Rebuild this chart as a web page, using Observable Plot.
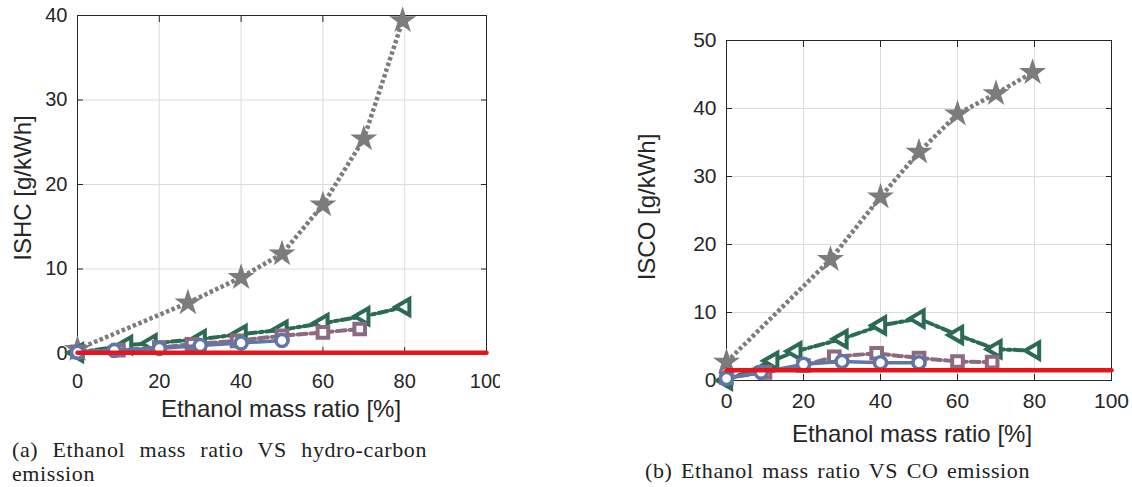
<!DOCTYPE html>
<html><head><meta charset="utf-8">
<script src="https://cdn.jsdelivr.net/npm/d3@7"></script>
<script src="https://cdn.jsdelivr.net/npm/@observablehq/plot@0.6"></script>
<style>
body{margin:0;background:#fff;width:1132px;height:487px;position:relative;overflow:hidden;font-family:"Liberation Sans",Arial,sans-serif;}
.abs{position:absolute}
.ylab{position:absolute;font-size:24px;line-height:1;white-space:nowrap;transform:translate(-50%,-50%) rotate(-90deg);color:#262626}
.xlab{position:absolute;font-size:24px;line-height:1;white-space:nowrap;transform:translate(-50%,-50%);color:#262626}
.cap{position:absolute;font-family:"Liberation Serif","Times New Roman",serif;font-size:22px;line-height:22px;letter-spacing:0.6px;white-space:nowrap;color:#222}
.just{text-align:justify;text-align-last:justify;white-space:normal}
</style></head><body>
<div id="left" class="abs" style="left:0;top:0"></div>
<div id="right" class="abs" style="left:600px;top:0"></div>
<div class="ylab" style="left:22.5px;top:188px">ISHC [g/kWh]</div>
<div class="xlab" style="left:281px;top:409px">Ethanol mass ratio [%]</div>
<div class="ylab" style="left:647px;top:207px">ISCO [g/kWh]</div>
<div class="xlab" style="left:912px;top:434px">Ethanol mass ratio [%]</div>
<div class="cap just" style="left:12px;top:439px;width:415px">(a) Ethanol mass ratio VS hydro-carbon</div>
<div class="cap" style="left:12px;top:463px">emission</div>
<div class="cap just" style="left:645px;top:460px;width:385px">(b) Ethanol mass ratio VS CO emission</div>
<script>
// ---- data ----
const xTicks = [0, 20, 40, 60, 80, 100];
const ishcTicks = [0, 10, 20, 30, 40];
const iscoTicks = [0, 10, 20, 30, 40, 50];

const ratioStar = [0, 27, 40, 50, 60, 70, 79.5];
const ratioTri  = [0, 12, 18, 30, 40, 50, 60, 70, 80];
const ratioSq   = [0, 10, 20, 28, 39, 50, 60, 69];
const ratioCirc = [0, 9, 20, 30, 40, 50];
const ratioLimit = [0, 100];

const ishcStar = [0.5, 6.0, 9.0, 11.8, 17.6, 25.4, 39.4];
const ishcTri  = [0.1, 1.0, 1.2, 1.7, 2.3, 2.8, 3.6, 4.4, 5.5];
const ishcSq   = [0.2, 0.4, 0.7, 1.1, 1.5, 2.1, 2.5, 2.9];
const ishcCirc = [0.15, 0.35, 0.6, 0.95, 1.25, 1.55];
const ishcLimit = [0.1, 0.1];

const iscoStar = [2.7, 17.8, 27.0, 33.6, 39.2, 42.2, 45.3];
const iscoTri  = [0, 2.9, 4.3, 6.1, 8.1, 9.1, 6.7, 4.6, 4.4];
const iscoSq   = [0.4, 1.2, 2.2, 3.5, 4.0, 3.3, 2.8, 2.7];
const iscoCirc = [0.3, 1.2, 2.4, 2.8, 2.6, 2.6];
const iscoLimit = [1.5, 1.5];

const colStar = "#7c7c7c", colTri = "#2b6b53", colSq = "#8c6a82", colCirc = "#5f77a7", colLimit = "#e8141b";

const zip = (xs, ys) => xs.map((x, i) => ({x, y: ys[i]}));

function chart({width, height, ml, mr, mt, mb, yDomain, yTicks, star, tri, sq, circ, limit, xPad, fs}) {
  const S = zip(ratioStar, star), T = zip(ratioTri, tri), Q = zip(ratioSq, sq), C = zip(ratioCirc, circ), L = zip(ratioLimit, limit);
  return Plot.plot({
    width, height, marginLeft: ml, marginRight: mr, marginTop: mt, marginBottom: mb,
    style: {fontFamily: "'Liberation Sans', Arial, sans-serif", color: "#262626", background: "transparent", overflow: "hidden"},
    x: {domain: [0, 100]},
    y: {domain: yDomain},
    marks: [
      Plot.gridX(xTicks, {stroke: "#dcdcdc", strokeOpacity: 1}),
      Plot.gridY(yTicks, {stroke: "#dcdcdc", strokeOpacity: 1}),
      Plot.axisX({ticks: xTicks, tickSize: 0, tickPadding: xPad, fontSize: fs, label: null}),
      Plot.axisY({ticks: yTicks, tickSize: 0, tickPadding: 10, fontSize: fs, label: null}),
      Plot.axisX({ticks: xTicks, anchor: "bottom", tickSize: -6, tickFormat: () => "", label: null}),
      Plot.axisX({ticks: xTicks, anchor: "top", tickSize: -6, tickFormat: () => "", label: null}),
      Plot.axisY({ticks: yTicks, anchor: "left", tickSize: -6, tickFormat: () => "", label: null}),
      Plot.axisY({ticks: yTicks, anchor: "right", tickSize: -6, tickFormat: () => "", label: null}),
      Plot.frame({stroke: "#262626"}),
      Plot.line(S, {x: "x", y: "y", stroke: colStar, strokeWidth: 4.5, strokeDasharray: "3.5,2.5", strokeLinecap: "butt"}),
      Plot.dot(S, {x: "x", y: "y", symbol: "star", r: 8.5, fill: colStar}),
      Plot.line(T, {x: "x", y: "y", stroke: colTri, strokeWidth: 4, strokeDasharray: "9,3.5,3,3.5"}),
      Plot.dot(T, {x: "x", y: "y", symbol: "triangle", rotate: -90, r: 6, stroke: colTri, strokeWidth: 4, fill: "white"}),
      Plot.line(Q, {x: "x", y: "y", stroke: colSq, strokeWidth: 4, strokeDasharray: "9,4"}),
      Plot.dot(Q, {x: "x", y: "y", symbol: "square", r: 6, stroke: colSq, strokeWidth: 4, fill: "white"}),
      Plot.line(C, {x: "x", y: "y", stroke: colCirc, strokeWidth: 3.5}),
      Plot.dot(C, {x: "x", y: "y", r: 6, stroke: colCirc, strokeWidth: 3.5, fill: "white"}),
      Plot.line(L, {x: "x", y: "y", stroke: colLimit, strokeWidth: 4.5})
    ]
  });
}

document.getElementById("left").append(chart({
  width: 500, height: 430, ml: 77, mr: 14, mt: 15, mb: 77,
  yDomain: [0, 40], yTicks: ishcTicks, star: ishcStar, tri: ishcTri, sq: ishcSq, circ: ishcCirc, limit: ishcLimit, xPad: 20, fs: 20
}));
document.getElementById("right").append(chart({
  width: 532, height: 430, ml: 126, mr: 21, mt: 40, mb: 50,
  yDomain: [0, 50], yTicks: iscoTicks, star: iscoStar, tri: iscoTri, sq: iscoSq, circ: iscoCirc, limit: iscoLimit, xPad: 13, fs: 21
}));
</script>
</body></html>
